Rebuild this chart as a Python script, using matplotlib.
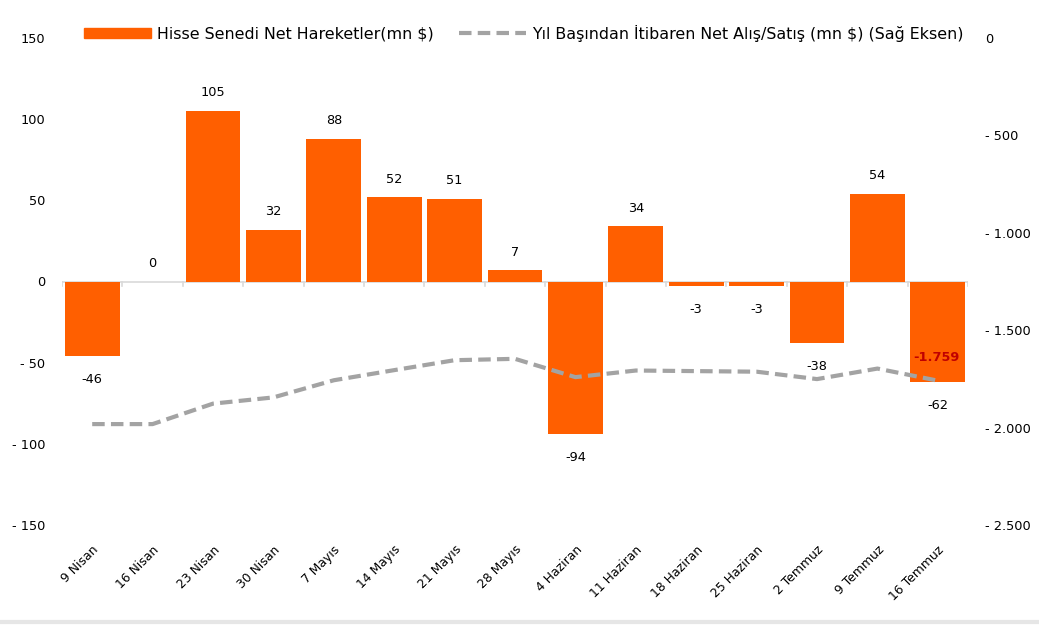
import matplotlib
matplotlib.use("Agg")
import matplotlib.pyplot as plt
from matplotlib.ticker import FuncFormatter, FixedLocator
from matplotlib.patches import Patch
from matplotlib.lines import Line2D

categories = ["9 Nisan", "16 Nisan", "23 Nisan", "30 Nisan", "7 Mayıs", "14 Mayıs",
              "21 Mayıs", "28 Mayıs", "4 Haziran", "11 Haziran", "18 Haziran",
              "25 Haziran", "2 Temmuz", "9 Temmuz", "16 Temmuz"]
net_flows = [-46, 0, 105, 32, 88, 52, 51, 7, -94, 34, -3, -3, -38, 54, -62]
ytd_cum = [-1982, -1982, -1877, -1845, -1757, -1705, -1654, -1647, -1741,
           -1707, -1710, -1713, -1751, -1697, -1759]
left_ticks = [-150, -100, -50, 0, 50, 100, 150]
right_ticks = [-2500, -2000, -1500, -1000, -500, 0]

bar_label = "Hisse Senedi Net Hareketler(mn $)"
line_label = "Yıl Başından İtibaren Net Alış/Satış (mn $) (Sağ Eksen)"

BAR_C = "#FF5F00"
LINE_C = "#A3A3A3"
FS = 9.3
FSX = 8.9

fig = plt.figure(figsize=(10.39, 6.26), dpi=100)
ax = fig.add_axes([62/1039, 1 - 525/626, (968-62)/1039, (525-38)/626])
ax2 = ax.twinx()

x = list(range(len(categories)))
ax.bar(x, net_flows, width=0.91, color=BAR_C, zorder=2)
ax.set_xlim(-0.5, len(categories) - 0.5)
ax.set_ylim(-150, 150)
ax.yaxis.set_major_locator(FixedLocator(left_ticks))

def fmt_left(v, pos):
    v = int(round(v))
    return f"- {abs(v)}" if v < 0 else f"{v}"

def fmt_right(v, pos):
    v = int(round(v))
    s = f"{abs(v):,}".replace(",", ".")
    return f"- {s}" if v < 0 else s

ax.yaxis.set_major_formatter(FuncFormatter(fmt_left))
ax.tick_params(axis="y", length=0, labelsize=FS, pad=12)
for sp in ax.spines.values():
    sp.set_visible(False)
for sp in ax2.spines.values():
    sp.set_visible(False)

# zero line with category ticks
ax.axhline(0, color="#D9D9D9", lw=1.2, zorder=1)
for b in range(len(categories) + 1):
    ax.plot([b - 0.5, b - 0.5], [0, -2.5], color="#D9D9D9", lw=1.2, zorder=1)

ax.set_xticks(x)
ax.set_xticklabels(categories, rotation=45, ha="right", rotation_mode="anchor", fontsize=FSX)
ax.tick_params(axis="x", length=0, pad=13)

for xi, v in zip(x, net_flows):
    if v >= 0:
        ax.annotate(f"{v}", (xi, v), xytext=(0, 13), textcoords="offset points",
                    ha="center", va="center", fontsize=FS)
    else:
        ax.annotate(f"{v}", (xi, v), xytext=(0, -17), textcoords="offset points",
                    ha="center", va="center", fontsize=FS)

ax2.plot(x, ytd_cum, color=LINE_C, lw=3, dashes=(3, 1.5), zorder=3)
ax2.set_ylim(-2500, 0)
ax2.yaxis.set_major_locator(FixedLocator(right_ticks))
ax2.yaxis.set_major_formatter(FuncFormatter(fmt_right))
ax2.tick_params(axis="y", length=0, labelsize=FS, pad=12)

ax2.annotate(fmt_right(ytd_cum[-1], 0).replace(" ", ""), (x[-1], ytd_cum[-1]),
             xytext=(-1, 17), textcoords="offset points", ha="center", va="center",
             fontsize=FS, color="#C00000", fontweight="bold", zorder=5)

handles = [Patch(color=BAR_C, label=bar_label),
           Line2D([0], [0], color=LINE_C, lw=3, dashes=(3, 1.5), label=line_label)]
fig.legend(handles=handles, loc="center", bbox_to_anchor=(524/1039, 1 - 33/626), ncol=2,
           frameon=False, fontsize=11.4, handlelength=4.2, handleheight=0.55,
           columnspacing=1.6, handletextpad=0.4)

fig.add_artist(plt.Line2D([0, 1], [1 - 622/626, 1 - 622/626], color="#E6E6E6", lw=3,
                          transform=fig.transFigure))

fig.savefig("out.png", dpi=100)
